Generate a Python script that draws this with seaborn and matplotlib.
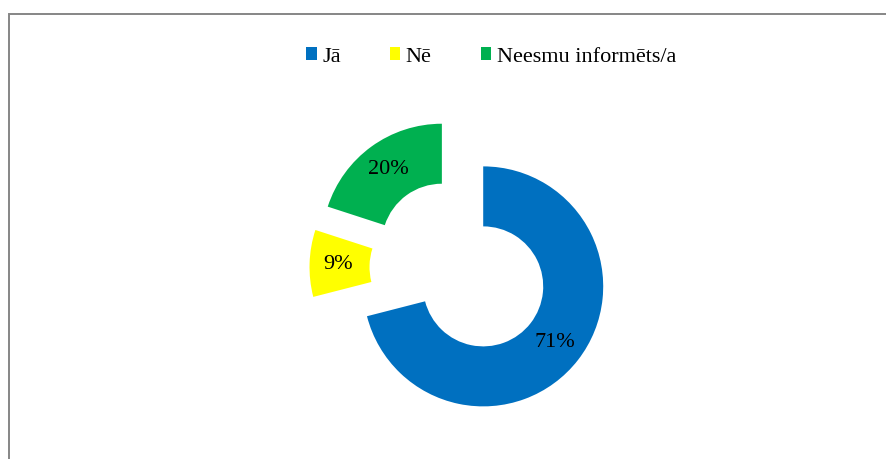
import matplotlib.pyplot as plt
import seaborn as sns
from matplotlib.patches import Patch, Rectangle

# survey answers (share of respondents, %)
labels = ['Jā', 'Nē', 'Neesmu informēts/a']
values = [71, 9, 20]
colors = ['#0070C0', '#FFFF00', '#00B050']

sns.set_theme(style='white')
plt.rcParams['font.family'] = ['Liberation Serif', 'DejaVu Serif']
plt.rcParams['text.color'] = 'black'

W, H = 886, 459
fig = plt.figure(figsize=(W / 100, H / 100), dpi=100)
ax = fig.add_axes([0, 0, 1, 1])

palette = sns.color_palette(colors)
wedges, texts, autotexts = ax.pie(
    values,
    colors=palette,
    startangle=90,
    counterclock=False,
    explode=[0.25] * len(values),
    wedgeprops=dict(width=0.5, edgecolor='none'),
    autopct=lambda p: f'{p:.0f}%',
    pctdistance=0.76,
    textprops=dict(fontsize=16, color='black'),
)

# map data units to pixels: radius 1 = 120 px, pie centre at (459.5, 191)
R, cx, cy = 120, 459.5, 191
ax.set_xlim(-cx / R, (W - cx) / R)
ax.set_ylim(-cy / R, (H - cy) / R)
ax.set_aspect('auto')
ax.axis('off')

handles = [Patch(facecolor=c, edgecolor='none') for c in palette]
fig.legend(handles, labels, loc='center', bbox_to_anchor=(491 / W, 1 - 57 / H),
           ncol=3, frameon=False, fontsize=16, handlelength=0.48,
           handleheight=0.48, handletextpad=0.25, columnspacing=2.2,
           labelcolor='black')

# chart-area border (runs off the right and bottom edges)
fig.patches.append(Rectangle((8.5 / W, -0.1), 2, (H - 13.5) / H + 0.1,
                             transform=fig.transFigure, fill=False,
                             edgecolor='#868686', lw=1.4))

fig.savefig('out.png', dpi=100, facecolor='white')
